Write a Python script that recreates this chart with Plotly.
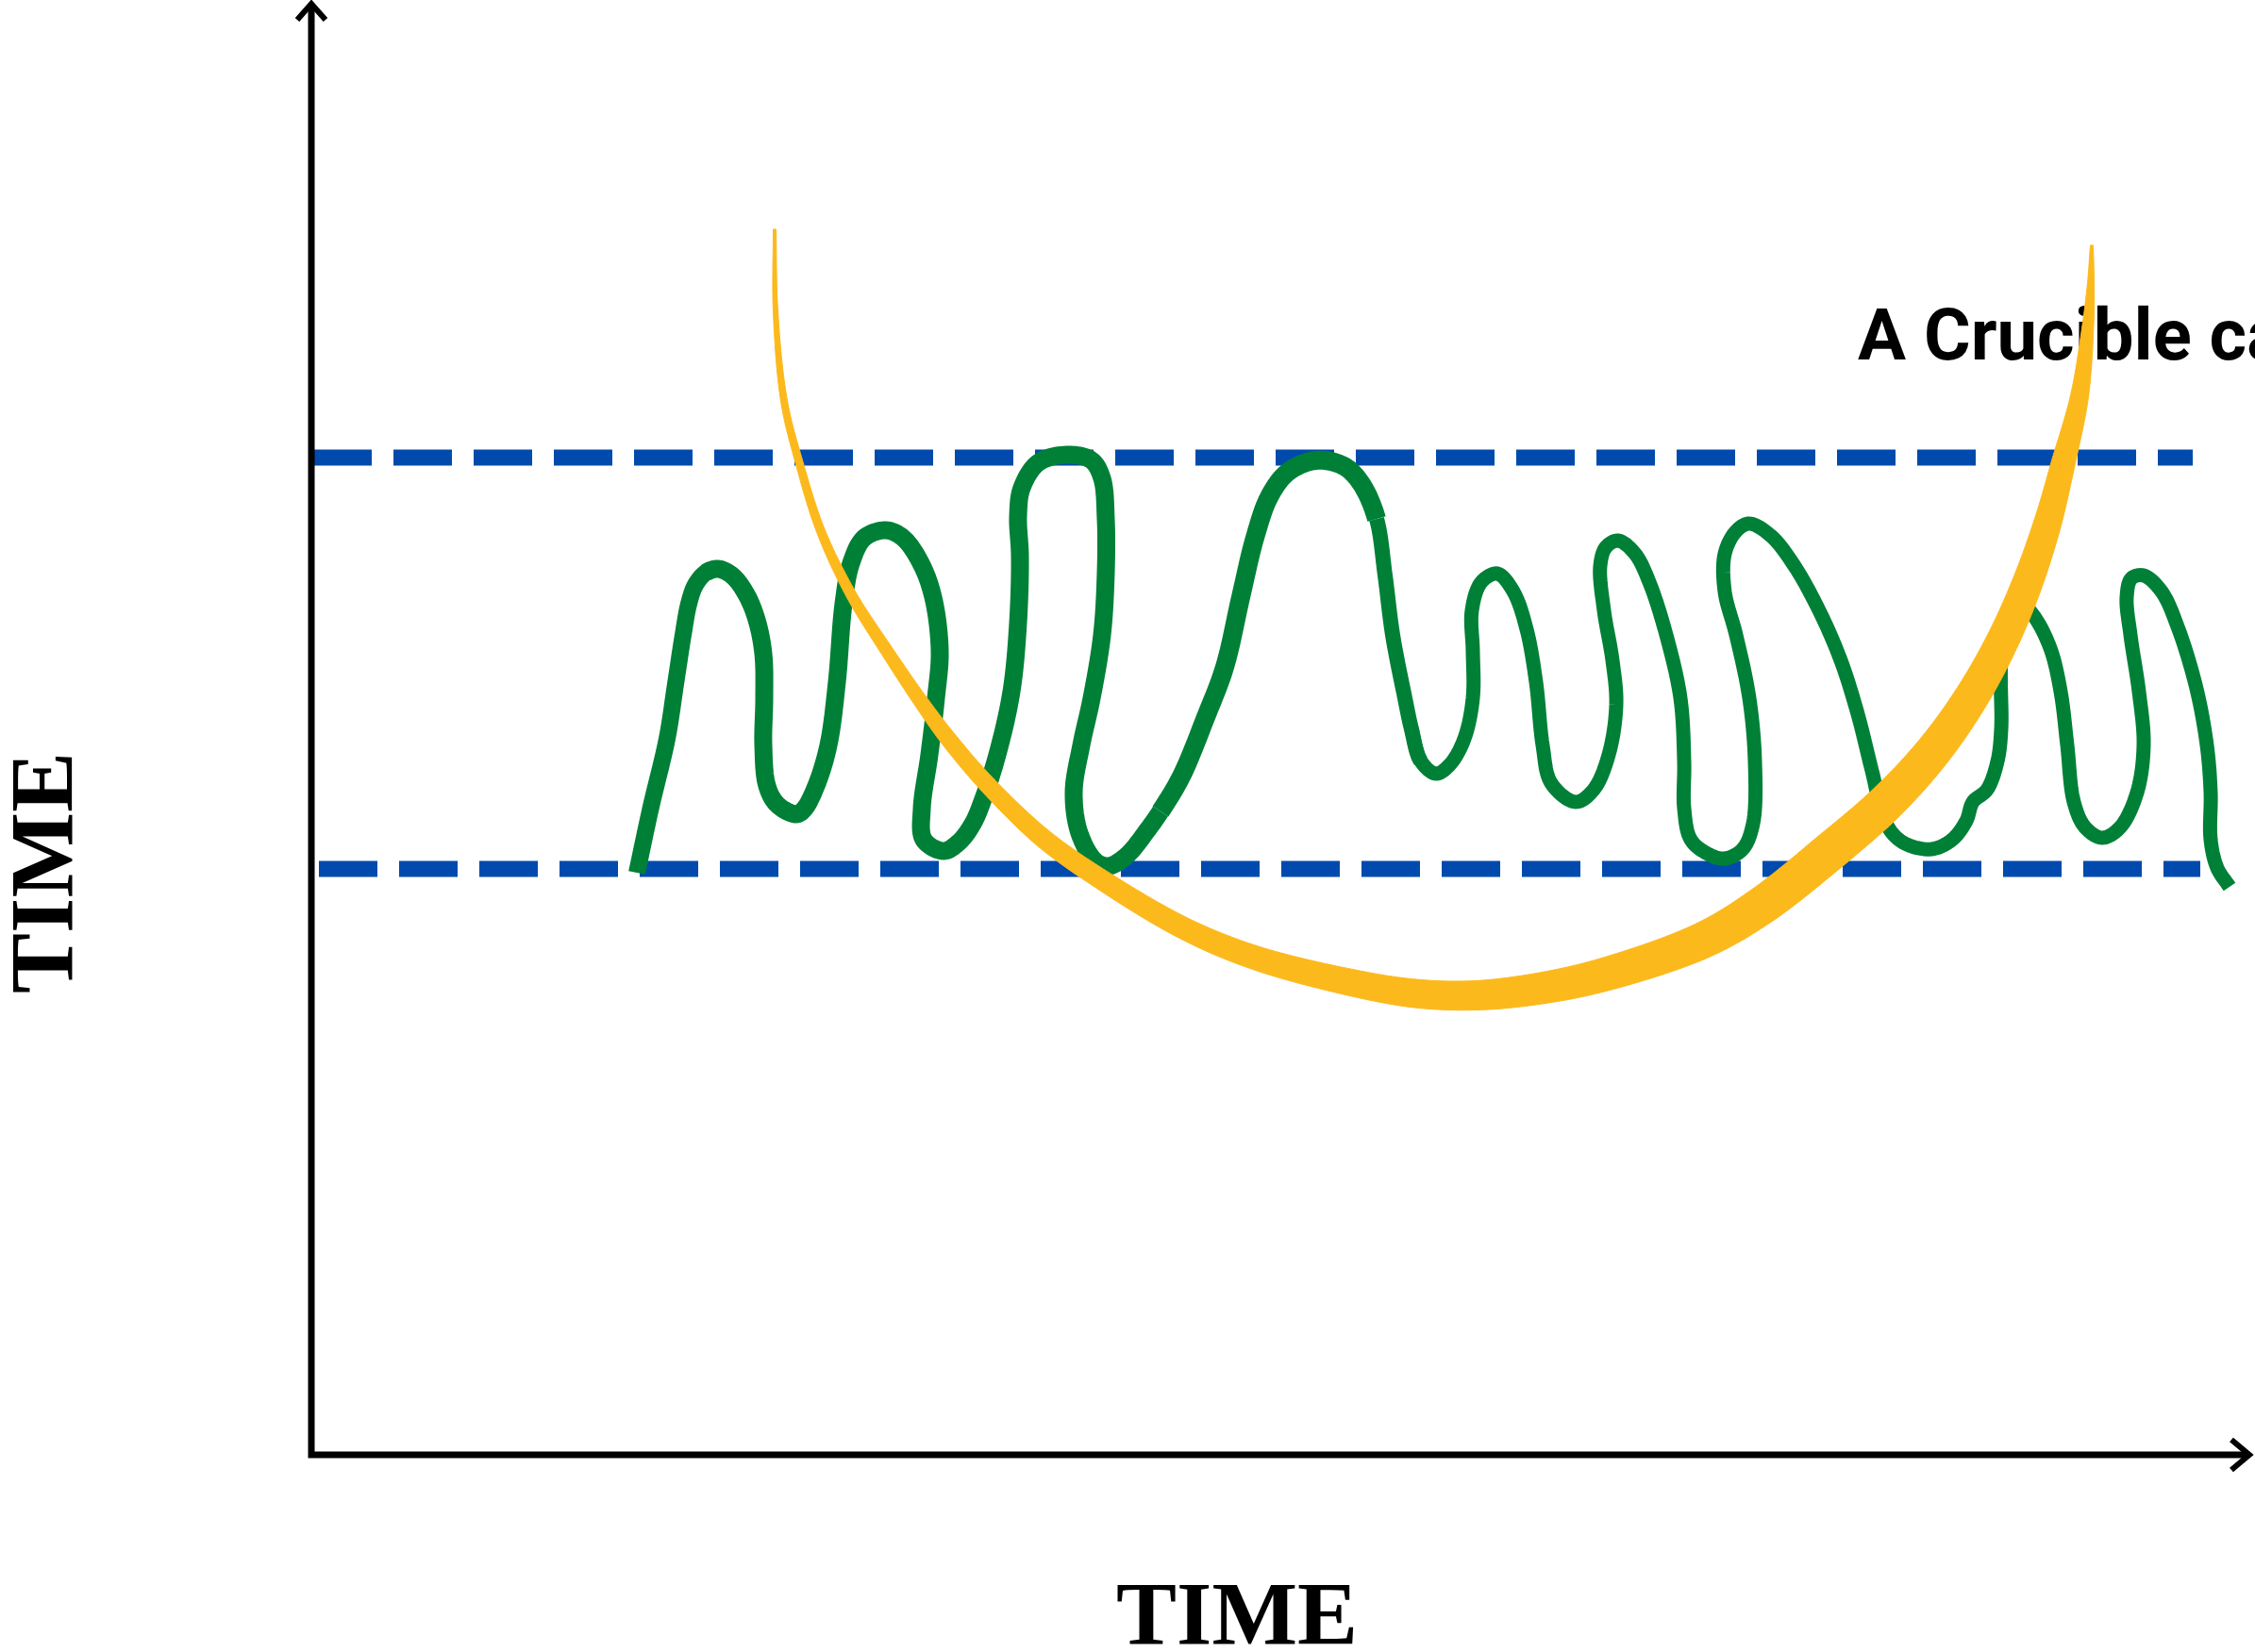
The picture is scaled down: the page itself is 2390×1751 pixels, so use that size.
import numpy as np
import plotly.graph_objects as go

# ---------------- data (traced in image pixel space) ----------------
green_x = [675, 690, 707, 716, 724, 730, 737, 748, 761, 776, 791, 802, 809, 810, 809, 813, 824, 844, 852, 865,
           878, 887, 894, 902, 916, 939, 957, 976, 989, 996, 992, 985, 977, 979, 1000, 1016, 1031, 1042, 1057, 1072,
           1079, 1081, 1079, 1083, 1101, 1133, 1157, 1168, 1172, 1172, 1168, 1157, 1146, 1138, 1144, 1161, 1175, 1194, 1216, 1230,
           1252, 1278, 1298, 1315, 1330, 1345, 1363, 1385, 1404, 1426, 1443, 1459, 1468, 1476, 1489, 1496, 1506, 1522, 1537, 1552,
           1561, 1561, 1560, 1570, 1587, 1604, 1618, 1628, 1635, 1644, 1670, 1689, 1705, 1713, 1709, 1700, 1696, 1702, 1715, 1733,
           1748, 1766, 1781, 1785, 1785, 1792, 1810, 1828, 1847, 1858, 1860, 1854, 1840, 1828, 1828, 1840, 1854, 1877, 1902, 1928,
           1951, 1969, 1984, 1999, 2017, 2047, 2069, 2084, 2091, 2106, 2117, 2121, 2121, 2128, 2140, 2155, 2173, 2184, 2191, 2198,
           2210, 2228, 2247, 2265, 2272, 2267, 2258, 2254, 2259, 2272, 2291, 2309, 2328, 2339, 2343, 2343, 2350, 2363]
green_y = [925, 855, 783, 725, 673, 640, 620, 607, 603, 610, 630, 657, 693, 740, 790, 833, 853, 863, 858, 833,
           790, 723, 640, 597, 570, 562, 570, 597, 633, 690, 740, 800, 857, 890, 902, 893, 873, 847, 800, 733,
           660, 590, 547, 517, 490, 482, 488, 507, 550, 607, 673, 740, 790, 840, 883, 913, 918, 907, 880, 860,
           823, 760, 707, 633, 570, 527, 502, 490, 488, 495, 513, 550, 610, 673, 740, 773, 807, 820, 810, 783,
           740, 690, 647, 617, 608, 627, 667, 723, 790, 830, 850, 837, 800, 747, 700, 647, 600, 580, 573, 587,
           617, 673, 740, 807, 857, 890, 905, 910, 900, 873, 807, 740, 673, 627, 587, 563, 555, 568, 600, 647,
           700, 757, 817, 873, 893, 900, 890, 870, 850, 837, 807, 773, 700, 655, 638, 652, 687, 733, 790, 850,
           877, 888, 877, 840, 790, 733, 673, 633, 613, 610, 627, 667, 730, 790, 840, 890, 920, 940]

orange_x = [821, 822, 831, 847, 870, 902, 940, 977, 1005, 1045, 1105, 1167, 1255, 1330, 1430, 1500, 1564,
            1630, 1700, 1804, 1867, 1939, 2000, 2050, 2090, 2122, 2148, 2170, 2187, 2204, 2213, 2216, 2217]
orange_y = [243, 330, 425, 490, 563, 630, 690, 745, 783, 830, 888, 932, 984, 1015, 1041, 1053, 1055,
            1048, 1033, 997, 960, 903, 850, 795, 738, 680, 620, 555, 490, 420, 345, 300, 260]
orange_w = [3, 5, 7, 8, 9, 11, 13, 15, 17, 18, 20, 21, 23, 25, 28, 30, 31,
            33, 35, 38, 40, 41, 40, 38, 36, 34, 32, 29, 25, 19, 12, 7, 3]

band_levels = [485, 921]
band_start = [332, 338]
band_end = [2324, 2332]

axis_origin = (330, 1542)
axis_top = 4
axis_right = 2384

title_text = "A Crucible ca"
x_label = "TIME"
y_label = "TIME"

W, H = 2390, 1751
GREEN = "#008037"
ORANGE = "#FCB91C"
BLUE = "#004AAD"


def catmull(xs, ys, n=14, alpha=0.5):
    """Centripetal Catmull-Rom densification of a polyline."""
    p = np.column_stack([xs, ys]).astype(float)
    p = np.vstack([p[0] * 2 - p[1], p, p[-1] * 2 - p[-2]])
    out = []
    for i in range(1, len(p) - 2):
        p0, p1, p2, p3 = p[i - 1], p[i], p[i + 1], p[i + 2]
        t0 = 0.0
        t1 = t0 + max(np.linalg.norm(p1 - p0), 1e-6) ** alpha
        t2 = t1 + max(np.linalg.norm(p2 - p1), 1e-6) ** alpha
        t3 = t2 + max(np.linalg.norm(p3 - p2), 1e-6) ** alpha
        for t in np.linspace(t1, t2, n, endpoint=False):
            a1 = (t1 - t) / (t1 - t0) * p0 + (t - t0) / (t1 - t0) * p1
            a2 = (t2 - t) / (t2 - t1) * p1 + (t - t1) / (t2 - t1) * p2
            a3 = (t3 - t) / (t3 - t2) * p2 + (t - t2) / (t3 - t2) * p3
            b1 = (t2 - t) / (t2 - t0) * a1 + (t - t0) / (t2 - t0) * a2
            b2 = (t3 - t) / (t3 - t1) * a2 + (t - t1) / (t3 - t1) * a3
            out.append((t2 - t) / (t2 - t1) * b1 + (t - t1) / (t2 - t1) * b2)
    out.append(p[-2])
    return np.array(out)


fig = go.Figure()

# dashed bands
for lvl, s, e in zip(band_levels, band_start, band_end):
    fig.add_trace(go.Scatter(x=[s, e], y=[lvl, lvl], mode="lines",
                             line=dict(color=BLUE, width=17, dash="62px,23px"),
                             hoverinfo="skip", showlegend=False))

# green squiggle, split by stroke weight
N = 12
gc = catmull(green_x, green_y, N)
segments = [(0, 8, 18), (7, 59, 19), (59, 71, 20), (71, 76, 16), (75, len(green_x) - 1, 15)]
for a, b, wdt in segments:
    seg = gc[a * N: b * N + 1]
    fig.add_trace(go.Scatter(x=seg[:, 0], y=seg[:, 1], mode="lines",
                             line=dict(color=GREEN, width=wdt, simplify=False),
                             hoverinfo="skip", showlegend=False))

# text (below orange stroke)
fig.add_trace(go.Scatter(x=[1969], y=[362], mode="text", text=[title_text],
                         textposition="middle right",
                         textfont=dict(family="Roboto", size=76, color="black", weight="bold"),
                         hoverinfo="skip", showlegend=False))

# orange variable-width stroke
c = catmull(orange_x, orange_y, 16)
wv = np.interp(np.linspace(0, len(orange_w) - 1, len(c)), np.arange(len(orange_w)), orange_w)
d = np.gradient(c, axis=0)
d /= np.linalg.norm(d, axis=1)[:, None]
nrm = np.column_stack([-d[:, 1], d[:, 0]])
left = c + nrm * wv[:, None] / 2
right = c - nrm * wv[:, None] / 2
poly = np.vstack([left, right[::-1], left[:1]])
fig.add_trace(go.Scatter(x=poly[:, 0], y=poly[:, 1], mode="lines", fill="toself",
                         fillcolor=ORANGE, line=dict(color=ORANGE, width=1, simplify=False),
                         hoverinfo="skip", showlegend=False))

# axes
ox, oy = axis_origin
fig.add_trace(go.Scatter(x=[ox, ox, axis_right], y=[axis_top, oy, oy], mode="lines",
                         line=dict(color="black", width=7), hoverinfo="skip", showlegend=False))
fig.add_trace(go.Scatter(x=[ox - 15, ox, ox + 15], y=[axis_top + 17, axis_top, axis_top + 17], mode="lines",
                         line=dict(color="black", width=6), hoverinfo="skip", showlegend=False))
fig.add_trace(go.Scatter(x=[axis_right - 19, axis_right, axis_right - 19], y=[oy - 16, oy, oy + 16], mode="lines",
                         line=dict(color="black", width=6), hoverinfo="skip", showlegend=False))

fig.update_layout(
    width=W, height=H, margin=dict(l=0, r=0, t=0, b=0),
    paper_bgcolor="white", plot_bgcolor="white",
    xaxis=dict(range=[0, W], visible=False, fixedrange=True),
    yaxis=dict(range=[H, 0], visible=False, fixedrange=True),
    annotations=[
        dict(x=1311, y=1710, xref="x", yref="y", text=x_label, showarrow=False,
             font=dict(family="Liberation Serif", size=96, color="black", weight="bold")),
        dict(x=44, y=925, xref="x", yref="y", text=y_label, showarrow=False, textangle=-90,
             font=dict(family="Liberation Serif", size=96, color="black", weight="bold")),
    ],
)

fig.write_html("out.html", config={"displayModeBar": False},
               post_script="document.body.style.margin='0';document.body.style.overflow='hidden';")
